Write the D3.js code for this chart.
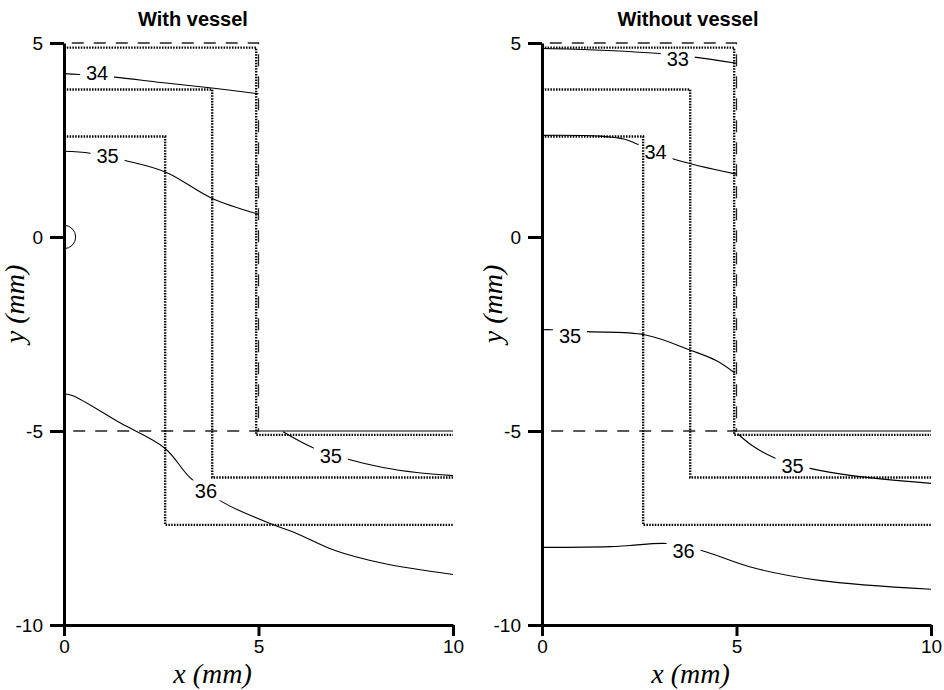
<!DOCTYPE html>
<html>
<head>
<meta charset="utf-8">
<script src="https://cdn.jsdelivr.net/npm/d3@7"></script>
<style>
  body { margin: 0; background: #fff; }
  text { font-family: "Liberation Sans", Arial, sans-serif; }
  .axis path, .axis line { stroke: #000; stroke-width: 3; }
  .axis text { font-size: 19px; fill: #000; }
  .dotted { fill: none; stroke: #000; stroke-width: 2.4; stroke-dasharray: 1.5 1.3; }
  .dashed { fill: none; stroke: #222; stroke-width: 1.3; stroke-dasharray: 12 10; }
  .contour { fill: none; stroke: #000; stroke-width: 1.1; }
</style>
</head>
<body>
<script>
/***** data *****/
var titles = ["With vessel", "Without vessel"];
var xTicks = [0, 5, 10];
var yTicks = [5, 0, -5, -10];

// tissue layer boundaries (mm): vertical x, top y, bottom y
var layerX = [4.94, 3.81, 2.6];
var layerTop = [4.88, 3.8, 2.59];
var layerBottom = [-5.1, -6.2, -7.42];

// contours, with vessel
var with34 = [[0,4.21],[0.4,4.19],[1.3,4.12],[2.5,3.98],[3.8,3.84],[5.0,3.69]];
var with35a = [[0,2.21],[0.67,2.16],[1.62,1.96],[2.62,1.67],[3.8,1.0],[4.99,0.59]];
var with36 = [[0,-4.04],[0.23,-4.09],[1.44,-4.79],[2.6,-5.45],[3.24,-6.2],[4.09,-6.84],
              [5.37,-7.41],[5.94,-7.62],[6.97,-8.08],[8.2,-8.41],[10,-8.7]];
var with35b = [[5.63,-5.02],[6.4,-5.43],[7.35,-5.74],[8.2,-5.94],[9.07,-6.07],[10,-6.15]];
var withLabels = [
  {t: "34", x: 0.85, y: 4.22},
  {t: "35", x: 1.12, y: 2.08},
  {t: "36", x: 3.65, y: -6.53},
  {t: "35", x: 6.86, y: -5.63}
];

// contours, without vessel
var without33 = [[0,4.86],[0.85,4.84],[3.03,4.73],[3.97,4.63],[5.0,4.48]];
var without34 = [[0,2.62],[1.49,2.6],[2.13,2.52],[2.46,2.39],[3.38,2.01],[5.0,1.62]];
var without35a = [[0,-2.39],[0.26,-2.39],[1.18,-2.44],[2.64,-2.52],[3.85,-2.93],[4.49,-3.19],[4.95,-3.5]];
var without35b = [[5.03,-5.07],[5.41,-5.38],[5.97,-5.69],[6.92,-5.97],[7.97,-6.15],[10,-6.35]];
var without36 = [[0,-8.0],[1.74,-7.98],[2.26,-7.95],[3.21,-7.9],[4.1,-8.08],[5.41,-8.52],[7.13,-8.85],[10,-9.08]];
var withoutLabels = [
  {t: "33", x: 3.49, y: 4.59},
  {t: "34", x: 2.92, y: 2.19},
  {t: "35", x: 0.72, y: -2.55},
  {t: "35", x: 6.44, y: -5.89},
  {t: "36", x: 3.64, y: -8.10}
];

var panels = [
  {title: titles[0], left: 64, titleX: 193, contours: [with34, with35a, with36, with35b], labels: withLabels, vessel: true},
  {title: titles[1], left: 542, titleX: 688, contours: [without33, without34, without35a, without35b, without36], labels: withoutLabels, vessel: false}
];

/***** setup *****/
var width = 944, height = 690;
var top0 = 43, plotW = 389, plotH = 582;

var svg = d3.select("body").append("svg")
    .attr("width", width)
    .attr("height", height);

var x = d3.scaleLinear().domain([0, 10]).range([0, plotW]);
var y = d3.scaleLinear().domain([5, -10]).range([0, plotH]);

var line = d3.line()
    .x(function(d) { return x(d[0]); })
    .y(function(d) { return y(d[1]); })
    .curve(d3.curveCatmullRom.alpha(0.5));

var straight = d3.line()
    .x(function(d) { return x(d[0]); })
    .y(function(d) { return y(d[1]); });

panels.forEach(function(p, i) {
  var g = svg.append("g").attr("transform", "translate(" + p.left + "," + top0 + ")");

  // title
  svg.append("text")
      .attr("x", p.titleX)
      .attr("y", 26)
      .attr("text-anchor", "middle")
      .style("font-size", "20px")
      .style("font-weight", "bold")
      .text(p.title);

  // dashed vessel-zone outline
  g.append("path")
      .attr("class", "dashed")
      .attr("d", straight([[0.2, 5], [5, 5], [5, -5], [0.2, -5]]));

  // solid line along y=-5 beyond x=5
  g.append("path")
      .attr("class", "contour")
      .attr("d", straight([[4.95, -5], [10, -5]]));

  // dotted tissue layers
  layerX.forEach(function(lx, j) {
    g.append("path")
        .attr("class", "dotted")
        .attr("d", straight([[0, layerTop[j]], [lx, layerTop[j]], [lx, layerBottom[j]], [10, layerBottom[j]]]));
  });

  // mask out gaps behind labels
  var mask = svg.append("defs").append("mask")
      .attr("id", "gap" + i)
      .attr("maskUnits", "userSpaceOnUse")
      .attr("x", -20).attr("y", -20).attr("width", plotW + 40).attr("height", plotH + 40);
  mask.append("rect")
      .attr("x", -20).attr("y", -20).attr("width", plotW + 40).attr("height", plotH + 40)
      .attr("fill", "#fff");
  mask.selectAll("rect.hole")
      .data(p.labels)
      .enter().append("rect")
      .attr("class", "hole")
      .attr("x", function(d) { return x(d.x) - 17; })
      .attr("y", function(d) { return y(d.y) - 10; })
      .attr("width", 34)
      .attr("height", 20)
      .attr("fill", "#000");

  g.append("g")
      .attr("mask", "url(#gap" + i + ")")
    .selectAll("path")
      .data(p.contours)
      .enter().append("path")
      .attr("class", "contour")
      .attr("d", line);

  g.selectAll("text.lab")
      .data(p.labels)
      .enter().append("text")
      .attr("class", "lab")
      .attr("x", function(d) { return x(d.x); })
      .attr("y", function(d) { return y(d.y); })
      .attr("dy", "0.36em")
      .attr("text-anchor", "middle")
      .style("font-size", "20px")
      .text(function(d) { return d.t; });

  // vessel cross-section
  if (p.vessel) {
    var r = x(0.3) - x(0);
    g.append("path")
        .attr("fill", "none")
        .attr("stroke", "#000")
        .attr("stroke-width", 1)
        .attr("d", "M" + x(0) + "," + (y(0) - r) + " A" + r + "," + r + " 0 0,1 " + x(0) + "," + (y(0) + r));
  }

  // axes
  g.append("g")
      .attr("class", "axis")
      .call(d3.axisLeft(y).tickValues(yTicks).tickSize(14).tickSizeOuter(0).tickPadding(7)
        .tickFormat(function(d) { return String(d); }));

  g.append("g")
      .attr("class", "axis")
      .attr("transform", "translate(0," + plotH + ")")
      .call(d3.axisBottom(x).tickValues(xTicks).tickSize(11).tickSizeOuter(0).tickPadding(4)
        .tickFormat(function(d) { return String(d); }));

  // axis titles
  svg.append("text")
      .attr("x", p.left + x(5) - 46)
      .attr("y", 683)
      .attr("text-anchor", "middle")
      .style("font-family", "'Liberation Serif', 'Times New Roman', serif")
      .style("font-style", "italic")
      .style("font-size", "28px")
      .text("x (mm)");

  svg.append("text")
      .attr("transform", "translate(" + (p.left - 40) + ",304) rotate(-90)")
      .attr("text-anchor", "middle")
      .style("font-family", "'Liberation Serif', 'Times New Roman', serif")
      .style("font-style", "italic")
      .style("font-size", "28px")
      .text("y (mm)");
});
</script>
</body>
</html>
